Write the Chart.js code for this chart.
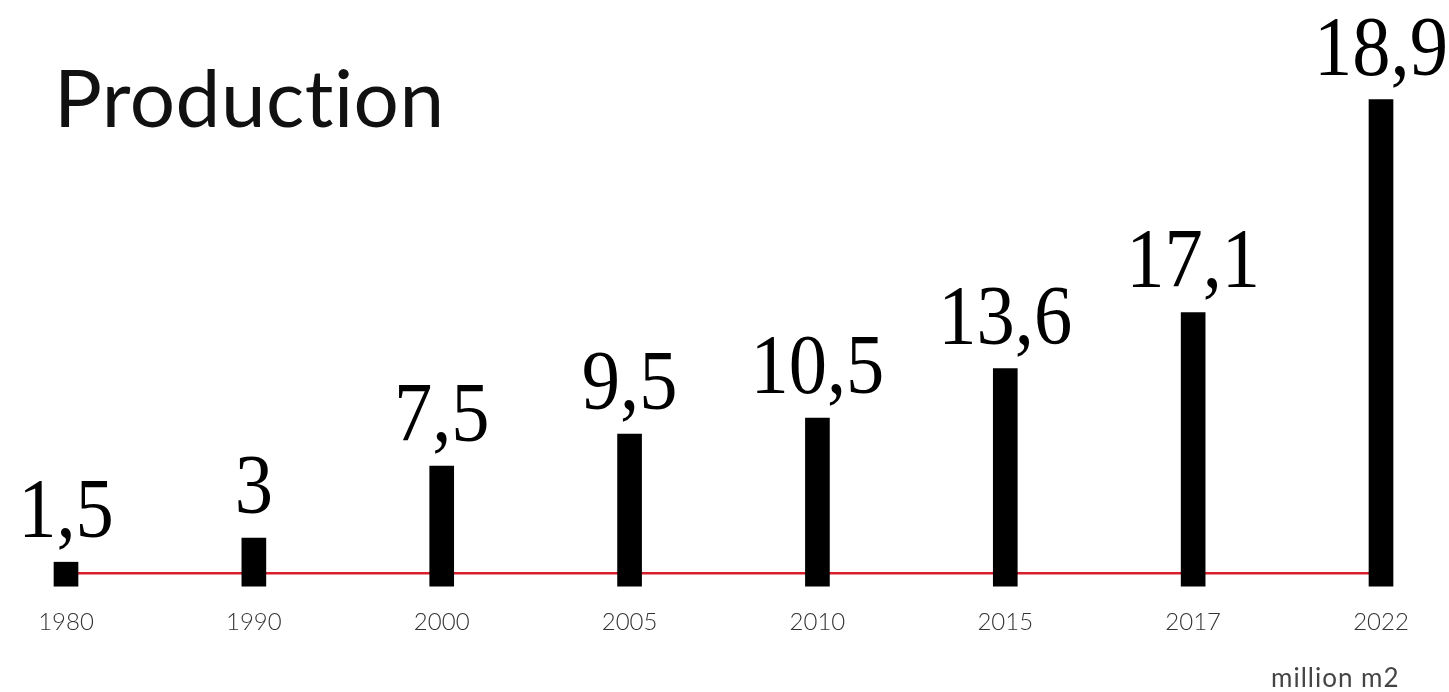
<!DOCTYPE html>
<html lang="en">

<head>
    <meta charset="UTF-8">
    <title>Production</title>
    <script src="https://cdn.jsdelivr.net/npm/chart.js"></script>
    <style>
        body { margin: 0; background: #fff; }
        .wrap { position: relative; width: 1449px; height: 692px; }
        .title { position: absolute; left: 54px; top: 48px; font: 400 80px Lato, sans-serif; color: #111; font-variant-ligatures: none; letter-spacing: 0.5px; }
        .unit { position: absolute; left: 1271px; top: 661px; font: 400 26px Lato, sans-serif; color: #444; letter-spacing: 1px; }
    </style>
</head>

<body>
    <div class="wrap">
        <canvas id="prodChart"></canvas>
        <div class="title">Production</div>
        <div class="unit">million m2</div>
    </div>

    <script>
        const years = ['1980', '1990', '2000', '2005', '2010', '2015', '2017', '2022'];
        // printed values (million m2)
        const values = [1.5, 3, 7.5, 9.5, 10.5, 13.6, 17.1, 18.9];
        // bar lengths as drawn in the picture, same scale; the 2022 bar is drawn much taller than its value
        const barLengths = [1.5, 3, 7.5, 9.5, 10.5, 13.6, 17.1, 30.4];

        // red base line + value labels
        const decor = {
            id: 'decor',
            beforeDatasetsDraw(chart) {
                const ctx = chart.ctx;
                const bars = chart.getDatasetMeta(0).data;
                const y = chart.scales.y.getPixelForValue(0) - 13;
                ctx.save();
                ctx.strokeStyle = '#d81f2c';
                ctx.lineWidth = 2.6;
                ctx.beginPath();
                ctx.moveTo(bars[0].x, y);
                ctx.lineTo(bars[bars.length - 1].x, y);
                ctx.stroke();
                ctx.restore();
            },
            afterDatasetsDraw(chart) {
                const ctx = chart.ctx;
                chart.getDatasetMeta(0).data.forEach((bar, i) => {
                    ctx.save();
                    ctx.translate(bar.x, bar.y - 25);
                    ctx.scale(0.9, 1);
                    ctx.font = '85px "Liberation Serif", serif';
                    ctx.fillStyle = '#000';
                    ctx.textAlign = 'center';
                    ctx.textBaseline = 'alphabetic';
                    ctx.fillText(String(values[i]).replace('.', ','), 0, 0);
                    ctx.restore();
                });
            }
        };

        new Chart(document.getElementById('prodChart'), {
            type: 'bar',
            data: {
                labels: years,
                datasets: [{
                    data: barLengths,
                    backgroundColor: '#000',
                    barThickness: 24,
                    clip: false
                }]
            },
            options: {
                responsive: true,
                maintainAspectRatio: false,
                animation: false,
                layout: { padding: { left: 66, right: 68, top: 74, bottom: 33 } },
                plugins: { legend: { display: false }, tooltip: { enabled: false } },
                scales: {
                    x: {
                        offset: false,
                        grid: { display: false, drawTicks: false },
                        border: { display: false },
                        ticks: { color: '#333', font: { family: 'Lato', size: 24, weight: '300' }, padding: 22, maxRotation: 0 }
                    },
                    y: { display: false, min: 0, max: 32 }
                }
            },
            plugins: [decor]
        });
    </script>
</body>

</html>
